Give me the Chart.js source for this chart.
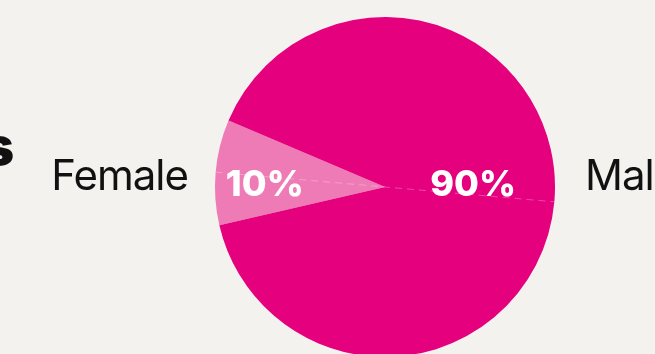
<!DOCTYPE html>
<html>
<head>
<meta charset="utf-8">
<script src="https://cdn.jsdelivr.net/npm/chart.js@4/dist/chart.umd.min.js"></script>
<style>
  html, body { margin: 0; padding: 0; background: #f4f2ee; overflow: hidden; }
  #wrap { position: relative; width: 655px; height: 357px; }
</style>
</head>
<body>
<div id="wrap"><canvas id="pieChart"></canvas></div>
<script>
// datos del grafico
const categorias = ['Female', 'Male'];
const porcentajes = [10, 90];
const colores = ['#ee7bb5', '#e5007e'];
const tituloCortado = 's';

// etiquetas de porcentaje dentro y nombres a los lados
const etiquetasPlugin = {
    id: 'etiquetas',
    afterDatasetsDraw(chart) {
        const ctx = chart.ctx;
        const arcos = chart.getDatasetMeta(0).data;
        const cx = arcos[0].x;
        const cy = arcos[0].y;
        const r = arcos[0].outerRadius;

        // linea punteada por la bisectriz del sector chico
        const medio = (arcos[0].startAngle + arcos[0].endAngle) / 2;
        ctx.save();
        ctx.strokeStyle = 'rgba(255,255,255,0.28)';
        ctx.lineWidth = 1;
        ctx.setLineDash([7, 5]);
        ctx.beginPath();
        ctx.moveTo(cx + Math.cos(medio) * r, cy + Math.sin(medio) * r);
        ctx.lineTo(cx - Math.cos(medio) * r, cy - Math.sin(medio) * r);
        ctx.stroke();
        ctx.restore();

        // porcentajes
        const distancias = [0.71, 0.52];
        ctx.save();
        ctx.fillStyle = '#ffffff';
        ctx.font = '800 36px Inter';
        ctx.textAlign = 'center';
        ctx.textBaseline = 'middle';
        arcos.forEach((arco, i) => {
            const m = (arco.startAngle + arco.endAngle) / 2;
            const x = cx + Math.cos(m) * r * distancias[i];
            ctx.fillText(porcentajes[i] + '%', x, cy - 2);
        });
        ctx.restore();

        // nombres de las categorias
        ctx.save();
        ctx.fillStyle = '#111111';
        ctx.font = '400 42px Inter';
        ctx.letterSpacing = '-1px';
        ctx.textBaseline = 'middle';
        ctx.textAlign = 'right';
        ctx.fillText(categorias[0], cx - r - 27, cy - 10);
        ctx.textAlign = 'left';
        ctx.fillText(categorias[1], cx + r + 30, cy - 10);

        // resto del titulo, cortado a la izquierda
        ctx.letterSpacing = '0px';
        ctx.font = '900 52px Inter';
        ctx.textAlign = 'right';
        ctx.fillText(tituloCortado, 14, cy - 38);
        ctx.restore();
    }
};

const canvas = document.getElementById('pieChart');
new Chart(canvas, {
    type: 'pie',
    data: {
        labels: categorias,
        datasets: [{
            data: porcentajes,
            backgroundColor: colores,
            borderWidth: 0,
            hoverOffset: 0
        }]
    },
    options: {
        responsive: true,
        maintainAspectRatio: false,
        animation: false,
        rotation: 257,
        layout: { padding: { left: 215, right: 100, top: 17, bottom: 0 } },
        plugins: {
            legend: { display: false },
            tooltip: { enabled: false }
        }
    },
    plugins: [etiquetasPlugin]
});
</script>
</body>
</html>
